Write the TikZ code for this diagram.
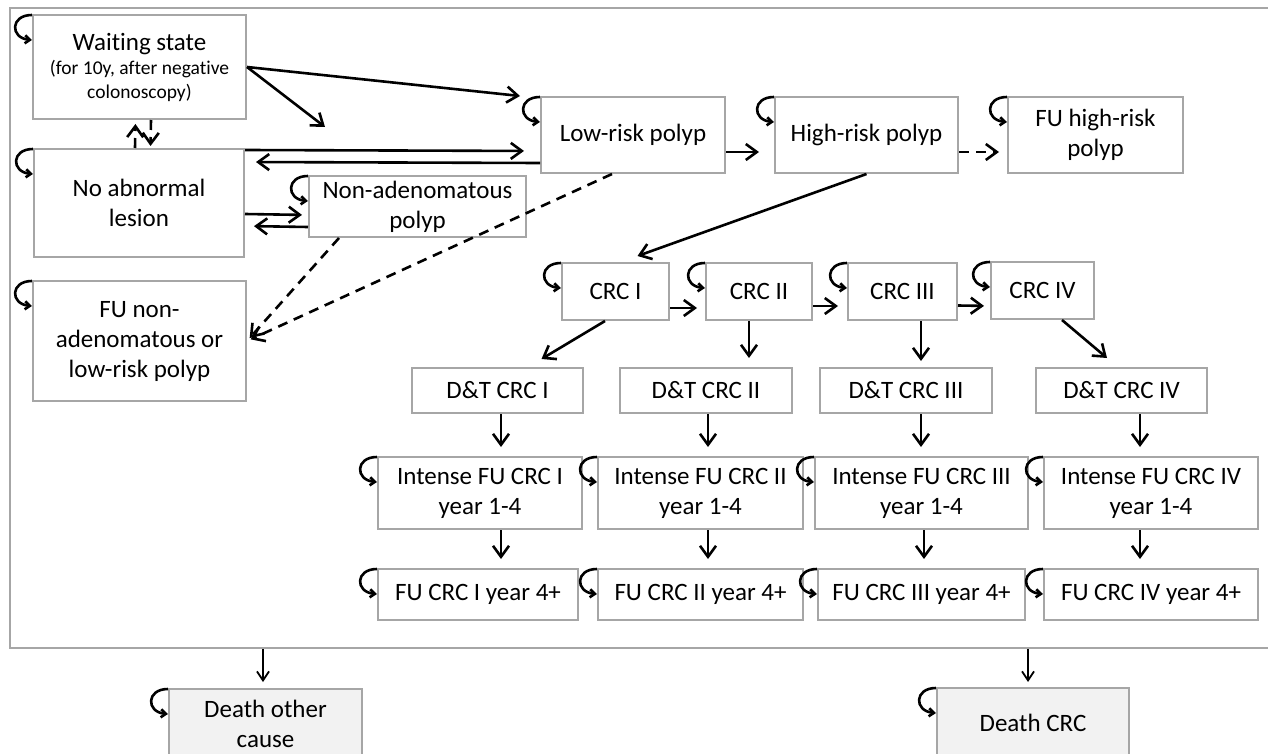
\documentclass[tikz,border=0pt]{standalone}
\usepackage{fontspec}
\setmainfont{Carlito}[Ligatures=NoCommon]
\usetikzlibrary{arrows.meta}
\definecolor{boxgray}{HTML}{A6A6A6}
\definecolor{deathfill}{HTML}{F2F2F2}
\newcommand\smalltxt{\fontsize{9.75}{12}\selectfont}
\newcommand\mybox[7][]{%
  \pgfmathsetmacro\bxw{(#5-#3)*0.5}%
  \pgfmathsetmacro\bxh{(#6-#4)*0.5}%
  \node[box,#1,minimum width=\bxw pt,minimum height=\bxh pt] (#2) at ({(#3+#5)/2},{(#4+#6)/2}) {#7};}
\newcommand\selfloop[1]{\draw[looparr] ([yshift=-0.5pt]#1.north west) .. controls +(-11pt,0pt) and +(-11pt,1pt) .. ([yshift=-13pt]#1.north west);}
\begin{document}
\begin{tikzpicture}[x=0.5pt,y=-0.5pt,
  box/.style={draw=boxgray,line width=1pt,fill=white,align=center,inner sep=0pt,font=\fontsize{12.5}{15}\selectfont},
  arr/.style={line width=1.3pt,-{Straight Barb[length=5.5pt,width=8pt]}},
  darr/.style={arr,dash pattern=on 5pt off 3.5pt},
  thinarr/.style={line width=0.9pt,-{Straight Barb[length=4.5pt,width=6pt]}},
  looparr/.style={line width=1.3pt,-{Straight Barb[length=2.5pt,width=4pt]}}]
\useasboundingbox (0,0) rectangle (1268,754);
% outer frame
\mybox[fill=none]{frame}{10}{8}{1272}{648}{}
% boxes
\mybox{wait}{33}{15}{246}{119}{Waiting state\\[-3pt]{\smalltxt (for 10y, after negative}\\[-3pt]{\smalltxt colonoscopy)}}
\mybox{noab}{34}{149}{244}{257}{No abnormal\\lesion}
\mybox{nonad}{309}{176}{526}{237}{Non-adenomatous\\polyp}
\mybox{funa}{33}{281}{246}{401}{FU non-\\adenomatous or\\low-risk polyp}
\mybox{low}{541}{97}{725}{173}{Low-risk polyp}
\mybox{high}{775}{97}{958}{173}{High-risk polyp}
\mybox{fuhigh}{1008}{97}{1183}{173}{FU high-risk\\polyp}
\mybox{crc1}{562}{263}{669}{320}{CRC I}
\mybox{crc2}{706}{263}{812}{320}{CRC II}
\mybox{crc3}{848}{263}{957}{320}{CRC III}
\mybox{crc4}{991}{262}{1094}{319}{CRC IV}
\mybox{dt1}{412}{368}{583}{413}{D\&T CRC I}
\mybox{dt2}{620}{368}{792}{413}{D\&T CRC II}
\mybox{dt3}{820}{368}{992}{413}{D\&T CRC III}
\mybox{dt4}{1036}{368}{1207}{413}{D\&T CRC IV}
\mybox{int1}{378}{457}{582}{529}{Intense FU CRC I\\year 1-4}
\mybox{int2}{598}{457}{803}{529}{Intense FU CRC II\\year 1-4}
\mybox{int3}{815}{457}{1028}{529}{Intense FU CRC III\\year 1-4}
\mybox{int4}{1044}{457}{1258}{529}{Intense FU CRC IV\\year 1-4}
\mybox{fu1}{378}{569}{578}{620}{FU CRC I year 4+}
\mybox{fu2}{598}{569}{803}{620}{FU CRC II year 4+}
\mybox{fu3}{818}{569}{1025}{620}{FU CRC III year 4+}
\mybox{fu4}{1044}{569}{1258}{620}{FU CRC IV year 4+}
\mybox[fill=deathfill]{dother}{169}{689}{362}{758}{Death other\\cause}
\mybox[fill=deathfill]{dcrc}{937}{688}{1129}{758}{Death CRC}
% self loops
\foreach \n in {wait,noab,nonad,funa,low,high,fuhigh,crc1,crc2,crc3,crc4,int1,int2,int3,int4,fu1,fu2,fu3,fu4,dother,dcrc}{\selfloop{\n}}
% top-left transitions
\coordinate (wfree) at (325,127);
\draw[arr] (wait.east) -- ([xshift=-10pt]low.north west);
\draw[arr] (wait.east) -- (wfree);
\draw[arr,shorten >=8pt] ([yshift=-1pt]noab.north east) -- ([yshift=-8pt]low.west);
\draw[arr,shorten >=5.5pt] ([yshift=-14pt]low.west) -- ([yshift=-7pt]noab.north east);
\draw[arr,shorten >=3pt] ([yshift=-33pt]noab.north east) -- ([yshift=-4.25pt]nonad.west);
\draw[arr,shorten >=4.5pt] ([yshift=-10.25pt]nonad.west) -- ([yshift=-39pt]noab.north east);
\draw[darr,shorten >=2pt] ([xshift=-2pt]noab.north) -- ([xshift=-2pt]wait.south);
\draw[darr,shorten >=1pt] ([xshift=5.75pt]wait.south) -- ([xshift=5.75pt]noab.north);
\draw[darr,shorten >=2pt] ([xshift=15.5pt]nonad.south west) -- (funa.east);
\draw[darr,shorten >=2pt] ([xshift=-10.5pt]low.south) -- (funa.east);
% polyp row
\draw[arr,shorten >=7.5pt] ([yshift=-8.5pt]low.east) -- ([yshift=-8.5pt]high.west);
\draw[darr,shorten >=4pt] ([yshift=-8.5pt]high.east) -- ([yshift=-8.5pt]fuhigh.west);
\draw[arr] (high.south) -- ([xshift=11pt,yshift=3pt]crc1.north);
% CRC row
\draw[arr,shorten >=4pt] ([yshift=-8.25pt]crc1.east) -- ([yshift=-8.25pt]crc2.west);
\draw[arr,shorten >=4.5pt] ([yshift=-7.25pt]crc2.east) -- ([yshift=-7.25pt]crc3.west);
\draw[arr,shorten >=3pt] ([yshift=-7pt]crc3.east) -- ([yshift=-7.75pt]crc4.west);
\draw[arr] ([xshift=-5.25pt]crc1.south) -- ([xshift=22pt,yshift=4pt]dt1.north);
\coordinate (c2s) at ([xshift=-5pt]crc2.south);
\draw[arr,shorten >=4.5pt] (c2s) -- (c2s |- dt2.north);
\coordinate (c3s) at ([xshift=9.25pt]crc3.south);
\draw[arr,shorten >=3pt] (c3s) -- (c3s |- dt3.north);
\draw[arr] ([xshift=9.75pt]crc4.south) -- ([xshift=-7.25pt,yshift=4.5pt]dt4.north);
% D&T -> Intense
\coordinate (d1s) at ([xshift=1.75pt]dt1.south);
\draw[arr,shorten >=4.5pt] (d1s) -- (d1s |- int1.north);
\coordinate (d2s) at ([xshift=1pt]dt2.south);
\draw[arr,shorten >=4.5pt] (d2s) -- (d2s |- int2.north);
\coordinate (d3s) at ([xshift=7.5pt]dt3.south);
\draw[arr,shorten >=4.5pt] (d3s) -- (d3s |- int3.north);
\coordinate (d4s) at ([xshift=9.25pt]dt4.south);
\draw[arr,shorten >=4.5pt] (d4s) -- (d4s |- int4.north);
% Intense -> FU
\coordinate (i1s) at ([xshift=10.5pt]int1.south);
\draw[arr,shorten >=4.5pt] (i1s) -- (i1s |- fu1.north);
\coordinate (i2s) at ([xshift=3.75pt]int2.south);
\draw[arr,shorten >=4.5pt] (i2s) -- (i2s |- fu2.north);
\coordinate (i3s) at ([xshift=1.25pt]int3.south);
\draw[arr,shorten >=4.5pt] (i3s) -- (i3s |- fu3.north);
\coordinate (i4s) at ([xshift=-5.5pt]int4.south);
\draw[arr,shorten >=4.5pt] (i4s) -- (i4s |- fu4.north);
% death
\coordinate (fo) at ([xshift=-1.25pt]dother.north |- frame.south);
\draw[thinarr,shorten >=3pt] (fo) -- (fo |- dother.north);
\coordinate (fc) at ([xshift=-2.5pt]dcrc.north |- frame.south);
\draw[thinarr,shorten >=2.5pt] (fc) -- (fc |- dcrc.north);
\end{tikzpicture}
\end{document}
